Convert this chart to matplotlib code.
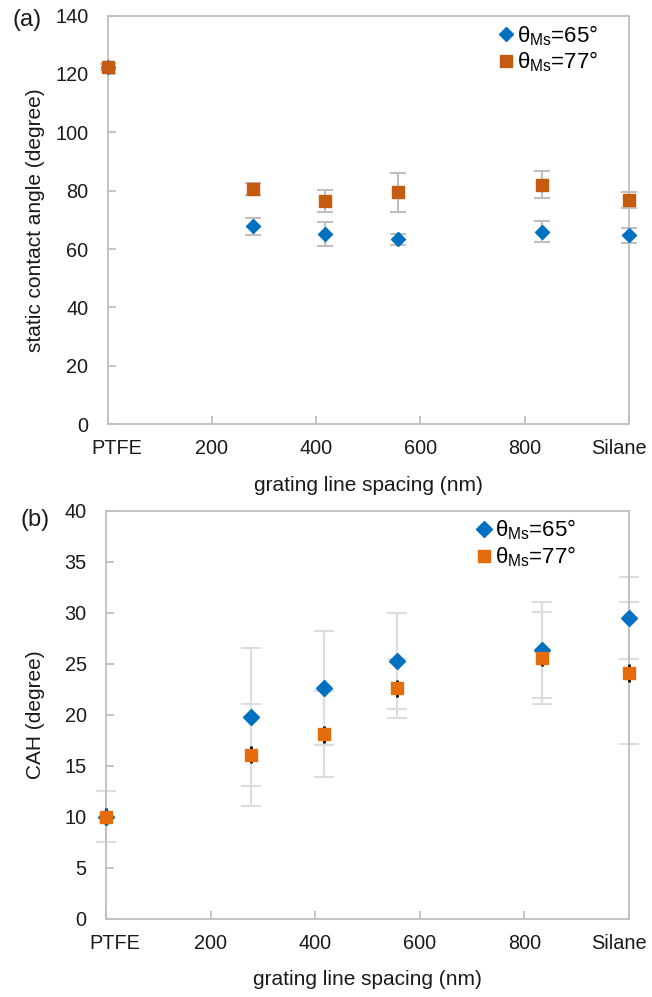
import matplotlib
matplotlib.use("Agg")
import matplotlib.pyplot as plt
from matplotlib.transforms import ScaledTranslation

plt.rcParams['font.family'] = ['Liberation Sans', 'DejaVu Sans']
plt.rcParams['mathtext.fontset'] = 'custom'
plt.rcParams['mathtext.rm'] = 'Liberation Sans'
plt.rcParams['mathtext.it'] = 'Liberation Sans:italic'

# x positions: 0 = PTFE, 1000 = Silane, others = grating spacing (nm)
x_pos = [0, 278, 417, 556, 834, 1000]
x_ticks = [0, 200, 400, 600, 800, 1000]
x_ticklabels = ['PTFE', '200', '400', '600', '800', 'Silane']
series_labels = ['θ$_{\\mathrm{Ms}}$=65°', 'θ$_{\\mathrm{Ms}}$=77°']

# (a) static contact angle
sca_65 = [122.5, 67.8, 65.1, 63.3, 66.0, 64.7]
sca_65_err = [1.0, 3.0, 4.2, 2.0, 3.5, 2.5]
sca_77 = [122.5, 80.6, 76.4, 79.4, 82.1, 76.8]
sca_77_err = [1.0, 2.2, 3.7, 6.7, 4.7, 2.6]

# (b) contact angle hysteresis
cah_65 = [10.0, 19.8, 22.6, 25.3, 26.4, 29.5]
cah_65_err = [2.5, 6.8, 5.6, 4.7, 4.7, 4.0]
cah_77 = [10.0, 16.1, 18.1, 22.6, 25.6, 24.1]
cah_77_err = [2.5, 5.0, 4.2, 2.9, 4.5, 7.0]
cah_77_small_err = [0.85, 0.85, 0.85, 0.85, 0.85, 0.85]

blue = '#0070C0'
orange_a = '#C55A11'
orange_b = '#E46C0A'
spine_c = '#BFBFBF'
text_c = '#1a1a1a'

fig = plt.figure(figsize=(6.52, 9.97), dpi=100)
ax1 = fig.add_axes([0.1652, 0.5747, 0.7995, 0.4096])
ax2 = fig.add_axes([0.1626, 0.0785, 0.8021, 0.4090])

def style(ax, ylim, yticks):
    ax.set_xlim(0, 1000)
    ax.set_ylim(*ylim)
    ax.set_xticks(x_ticks)
    ax.set_xticklabels(x_ticklabels)
    ax.set_yticks(yticks)
    for s in ax.spines.values():
        s.set_color(spine_c)
        s.set_linewidth(1.3)
    ax.tick_params(axis='both', direction='in', length=6, width=1.3,
                   color=spine_c, labelsize=14.3, labelcolor=text_c)
    ax.tick_params(axis='x', pad=11)
    ax.tick_params(axis='y', pad=14)
    labels = ax.get_xticklabels()
    labels[0].set_transform(labels[0].get_transform() +
                            ScaledTranslation(9 / 100, 0, fig.dpi_scale_trans))
    labels[-1].set_transform(labels[-1].get_transform() +
                             ScaledTranslation(-10 / 100, 0, fig.dpi_scale_trans))

leg_kw = dict(frameon=False, fontsize=16, handlelength=0.6, handletextpad=0.2,
              labelspacing=0.1, borderpad=0, borderaxespad=0, loc='upper right')

# Panel (a)
ax1.errorbar(x_pos, sca_65, yerr=sca_65_err, fmt='D', color=blue, ms=7.6,
             ecolor=spine_c, elinewidth=1.5, capsize=5.6, capthick=1.5,
             clip_on=False, zorder=3, label=series_labels[0])
ax1.errorbar(x_pos, sca_77, yerr=sca_77_err, fmt='s', color=orange_a, ms=9.3,
             ecolor=spine_c, elinewidth=1.5, capsize=5.6, capthick=1.5,
             clip_on=False, zorder=3, label=series_labels[1])
style(ax1, (0, 140), range(0, 141, 20))
ax1.set_xlabel('grating line spacing (nm)', fontsize=15, labelpad=13, color=text_c)
ax1.set_ylabel('static contact angle (degree)', fontsize=15, color=text_c)
ax1.yaxis.set_label_coords(-0.12, 0.5)
h, l = ax1.get_legend_handles_labels()
h = [hh[0] for hh in h]
ax1.legend(h, l, bbox_to_anchor=(0.9405, 0.982), **leg_kw)
fig.text(12 / 652, 1 - 20 / 997, '(a)', fontsize=17, va='center', ha='left',
         color=text_c)

# Panel (b)
eb_c = '#DDDDDD'
ax2.errorbar(x_pos, cah_65, yerr=cah_65_err, fmt='none', ecolor=eb_c,
             elinewidth=1.5, capsize=7, capthick=1.5, clip_on=False, zorder=2)
ax2.errorbar(x_pos, cah_77, yerr=cah_77_err, fmt='none', ecolor=eb_c,
             elinewidth=1.5, capsize=7, capthick=1.5, clip_on=False, zorder=2)
ax2.errorbar(x_pos, cah_77, yerr=cah_77_small_err, fmt='none', ecolor='black',
             elinewidth=2, capsize=0, clip_on=False, zorder=3)
ax2.plot(x_pos, cah_65, 'D', color=blue, ms=7.8, clip_on=False, zorder=4,
         label=series_labels[0])
ax2.plot(x_pos, cah_77, 's', color=orange_b, ms=9.3, clip_on=False, zorder=5,
         label=series_labels[1])
style(ax2, (0, 40), range(0, 41, 5))
ax2.set_xlabel('grating line spacing (nm)', fontsize=15, labelpad=12, color=text_c)
ax2.set_ylabel('CAH (degree)', fontsize=15, color=text_c)
ax2.yaxis.set_label_coords(-0.117, 0.5)
ax2.legend(bbox_to_anchor=(0.8994, 0.9835), **leg_kw)
fig.text(21 / 652, 1 - 520 / 997, '(b)', fontsize=17, va='center', ha='left',
         color=text_c)

fig.savefig('out.png', dpi=100)
